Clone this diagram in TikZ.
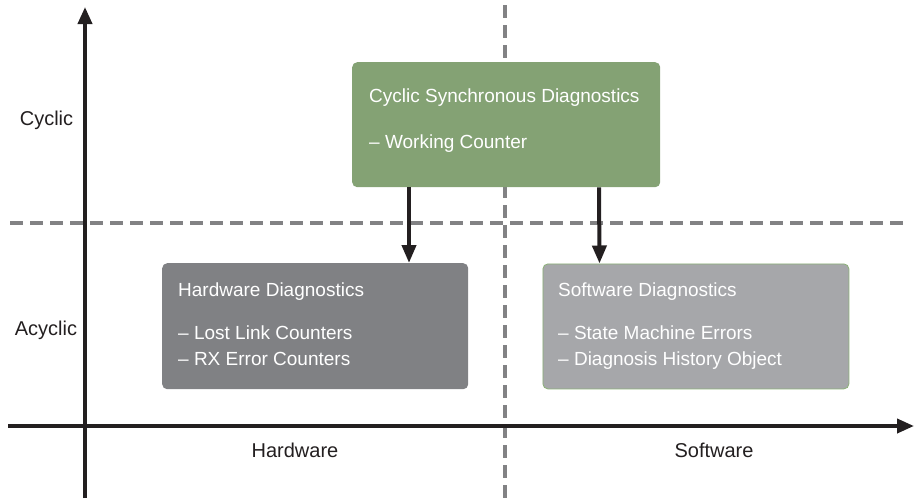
\documentclass[tikz,border=0pt]{standalone}
\usepackage{fontspec}
\setmainfont{Liberation Sans}
\usetikzlibrary{arrows.meta}
\definecolor{axisblack}{RGB}{35,31,32}
\definecolor{dashgray}{RGB}{130,130,132}
\definecolor{cycgreen}{RGB}{132,162,116}
\definecolor{hwgray}{RGB}{128,129,132}
\definecolor{swgray}{RGB}{166,167,170}
\definecolor{swedge}{RGB}{140,178,120}
\tikzset{
  axisline/.style={draw=axisblack, line width=3.8pt, -{Triangle[length=17pt,width=14pt]}},
  divline/.style={draw=dashgray, line width=4pt, dash pattern=on 12.5pt off 7.5pt},
  diagbox/.style={rectangle, rounded corners=5pt, inner sep=0pt, draw=none},
  boxarrow/.style={draw=axisblack, line width=4pt, -{Triangle[length=18pt,width=14pt]}},
  boxtext/.style={text=white, inner sep=0pt, anchor=base west, font=\fontsize{19}{23}\selectfont},
  axislabel/.style={text=axisblack, inner sep=0pt, anchor=base, font=\fontsize{20}{24}\selectfont},
}
\begin{document}
\begin{tikzpicture}[x=1pt,y=-1pt]
\useasboundingbox (0,0) rectangle (915,501);
% divider lines
\coordinate (vdTop) at (505,5);
\coordinate (vdBot) at (505,501);
\coordinate (hdL) at (10,222.5);
\coordinate (hdR) at (905,222.5);
\draw[divline] (vdTop) -- (vdBot);
\draw[divline] (hdL) -- (hdR);
% boxes
\node[diagbox, fill=cycgreen, minimum width=308pt, minimum height=125pt, anchor=north west] (cs) at (352,62) {};
\node[diagbox, fill=hwgray, minimum width=306pt, minimum height=126pt, anchor=north west] (hw) at (162,263) {};
\node[diagbox, fill=swgray, draw=swedge, line width=0.8pt, minimum width=306pt, minimum height=125pt, anchor=north west] (sw) at (542.5,263.5) {};
% box texts
\node[boxtext] (csT) at (369,102.5) {Cyclic Synchronous Diagnostics};
\node[boxtext] (csA) at (369,148) {– Working Counter};
\node[boxtext] (hwT) at (178,296) {Hardware Diagnostics};
\node[boxtext] (hwA) at (178,339) {– Lost Link Counters};
\node[boxtext] (hwB) at (178,365) {– RX Error Counters};
\node[boxtext] (swT) at (558,296) {Software Diagnostics};
\node[boxtext] (swA) at (558,339) {– State Machine Errors};
\node[boxtext] (swB) at (558,365) {– Diagnosis History Object};
% arrows between boxes
\draw[boxarrow] ([xshift=57pt]cs.south west) -- ([xshift=247pt]hw.north west);
\draw[boxarrow] ([xshift=247pt]cs.south west) -- ([xshift=57pt]sw.north west);
% axes
\coordinate (yBot) at (85,498);
\coordinate (yTop) at (85,7);
\coordinate (xL) at (8,426);
\coordinate (xR) at (914,426);
\draw[axisline] (yBot) -- (yTop);
\draw[axisline] (xL) -- (xR);
% axis labels
\node[axislabel] (lCyc) at (46.5,125) {Cyclic};
\node[axislabel] (lAcy) at (46,335) {Acyclic};
\node[axislabel] (lHw) at (295,457) {Hardware};
\node[axislabel] (lSw) at (714,457) {Software};
\end{tikzpicture}
\end{document}
